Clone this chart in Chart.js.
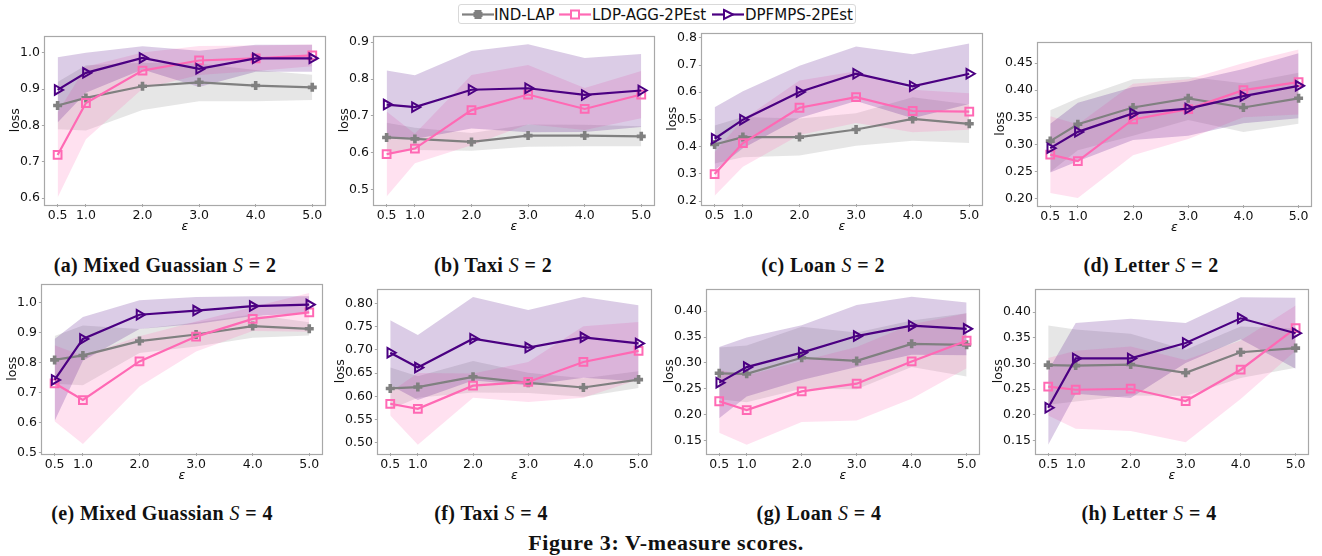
<!DOCTYPE html>
<html><head><meta charset="utf-8">
<script src="https://cdn.jsdelivr.net/npm/chart.js@4.4.1/dist/chart.umd.min.js"></script>
<style>
body{margin:0;width:1322px;height:556px;background:#fff;position:relative;overflow:hidden;font-family:"DejaVu Sans",sans-serif;}
canvas{position:absolute;}
.cap{position:absolute;font-family:"Liberation Serif",serif;font-weight:bold;font-size:20px;letter-spacing:0.4px;white-space:nowrap;transform:translate(-50%,-50%);color:#111;}
.cap i{font-weight:normal;}
.figcap{position:absolute;font-family:"Liberation Serif",serif;font-weight:bold;font-size:22px;letter-spacing:0.6px;white-space:nowrap;transform:translate(-50%,-50%);color:#111;}
#legend{position:absolute;left:458px;top:4px;width:398px;height:20px;border:1px solid #d9d9d9;border-radius:3px;box-sizing:border-box;}
.lg{position:absolute;top:0;height:20px;}
.lt{position:absolute;top:1px;font-family:"DejaVu Sans";font-size:15px;line-height:18px;color:#111;white-space:nowrap;}
</style></head><body>
<div id="legend"></div>
<script>
// ---------- data ----------
const epsilons = [0.5, 1.0, 2.0, 3.0, 4.0, 5.0];
const seriesNames = ['IND-LAP', 'LDP-AGG-2PEst', 'DPFMPS-2PEst'];
const panelLetters = ['a','b','c','d','e','f','g','h'];
const panelNames = ['Mixed Guassian','Taxi','Loan','Letter','Mixed Guassian','Taxi','Loan','Letter'];
const panelS = [2,2,2,2,4,4,4,4];
const yTickValues = [
  [0.6,0.7,0.8,0.9,1.0],
  [0.5,0.6,0.7,0.8,0.9],
  [0.2,0.3,0.4,0.5,0.6,0.7,0.8],
  [0.20,0.25,0.30,0.35,0.40,0.45],
  [0.5,0.6,0.7,0.8,0.9,1.0],
  [0.50,0.55,0.60,0.65,0.70,0.75,0.80],
  [0.15,0.20,0.25,0.30,0.35,0.40],
  [0.15,0.20,0.25,0.30,0.35,0.40]
];
const yDecimals = [1,1,1,2,1,2,2,2];
const yMin = [0.584,0.462,0.189,0.188,0.498,0.478,0.126,0.126];
const yMax = [1.045,0.915,0.816,0.488,1.061,0.830,0.442,0.444];

const indLapMean = [
  [0.855,0.876,0.908,0.919,0.910,0.905],
  [0.642,0.638,0.630,0.647,0.647,0.645],
  [0.408,0.435,0.435,0.463,0.502,0.484],
  [0.306,0.337,0.368,0.385,0.368,0.385],
  [0.809,0.824,0.872,0.894,0.922,0.913],
  [0.617,0.620,0.642,0.629,0.619,0.636],
  [0.280,0.279,0.310,0.304,0.337,0.335],
  [0.297,0.296,0.298,0.282,0.322,0.330]
];
const indLapStd = [
  [0.065,0.090,0.065,0.052,0.043,0.035],
  [0.040,0.030,0.024,0.030,0.029,0.027],
  [0.070,0.074,0.068,0.060,0.080,0.071],
  [0.057,0.048,0.052,0.040,0.045,0.047],
  [0.080,0.100,0.040,0.040,0.039,0.022],
  [0.045,0.023,0.034,0.022,0.020,0.018],
  [0.050,0.055,0.060,0.055,0.045,0.061],
  [0.077,0.070,0.060,0.045,0.050,0.038]
];
const ldpMean = [
  [0.719,0.862,0.951,0.979,0.985,0.993],
  [0.597,0.612,0.716,0.758,0.719,0.758],
  [0.299,0.413,0.543,0.582,0.531,0.529],
  [0.281,0.269,0.346,0.365,0.400,0.415],
  [0.731,0.675,0.804,0.887,0.946,0.968],
  [0.584,0.573,0.623,0.631,0.674,0.698],
  [0.226,0.209,0.245,0.260,0.303,0.343],
  [0.255,0.249,0.251,0.227,0.288,0.369]
];
const ldpStd = [
  [0.117,0.100,0.050,0.040,0.035,0.030],
  [0.115,0.040,0.095,0.080,0.057,0.064],
  [0.080,0.087,0.100,0.095,0.078,0.067],
  [0.071,0.068,0.066,0.055,0.050,0.060],
  [0.127,0.147,0.084,0.050,0.040,0.065],
  [0.025,0.077,0.026,0.043,0.077,0.062],
  [0.061,0.067,0.059,0.071,0.072,0.053],
  [0.056,0.076,0.082,0.080,0.057,0.044]
];
const dpfMean = [
  [0.898,0.945,0.986,0.956,0.985,0.985],
  [0.731,0.724,0.771,0.775,0.757,0.769],
  [0.429,0.499,0.601,0.668,0.622,0.668],
  [0.293,0.323,0.357,0.366,0.389,0.408],
  [0.742,0.879,0.960,0.974,0.989,0.994],
  [0.694,0.662,0.724,0.705,0.727,0.714],
  [0.262,0.292,0.320,0.352,0.372,0.366],
  [0.214,0.310,0.310,0.340,0.388,0.359]
];
const dpfStd = [
  [0.090,0.055,0.032,0.050,0.037,0.037],
  [0.092,0.086,0.105,0.119,0.100,0.099],
  [0.116,0.105,0.096,0.100,0.118,0.111],
  [0.045,0.054,0.049,0.050,0.050,0.060],
  [0.137,0.073,0.048,0.045,0.033,0.028],
  [0.070,0.070,0.090,0.081,0.087,0.082],
  [0.069,0.057,0.053,0.060,0.056,0.051],
  [0.072,0.069,0.077,0.039,0.041,0.069]
];

// ---------- layout & style ----------
const panelBoxes = [
  [45,36,325,203],[374,36,654,203],[702,33,982,203],[1038,42,1311,204],
  [42,284,322,452],[378,289,651,452],[707,289,979,452],[1036,289,1308,452]
];
const captionCenters = [165,493,823,1151,162,491,819,1149];
const captionRows = [265,513];
const GRAY = '#808080', PINK = '#ff69b4', INDIGO = '#4b0082';
const GRAY_BAND = 'rgba(128,128,128,0.2)', PINK_BAND = 'rgba(255,105,180,0.2)', INDIGO_BAND = 'rgba(75,0,130,0.2)';
const SPINE = '#a8a8a8';
const TXT = '#111';

const boxPlugin = {
  id: 'boxBorder',
  afterDatasetsDraw(chart) {
    const a = chart.chartArea, ctx = chart.ctx;
    ctx.save();
    ctx.strokeStyle = SPINE; ctx.lineWidth = 1.2;
    ctx.strokeRect(Math.round(a.left) - 0.5, Math.round(a.top) - 0.5, Math.round(a.right - a.left) + 1, Math.round(a.bottom - a.top) + 1);
    ctx.restore();
  }
};

function pts(arr) { return epsilons.map((e, k) => ({x: e, y: arr[k]})); }
function shifted(mean, std, sign) { return epsilons.map((e, k) => ({x: e, y: mean[k] + sign * std[k]})); }

function lineDs(label, mean, color, style, radius, bw, rotation) {
  return {
    label, data: pts(mean), borderColor: color, borderWidth: 2.2, tension: 0, fill: false,
    pointStyle: style, pointRadius: radius, pointBorderWidth: bw, pointRotation: rotation,
    pointBorderColor: color, pointBackgroundColor: 'rgba(0,0,0,0)'
  };
}
function bandDs(mean, std, sign, fillTarget, color) {
  return {
    data: shifted(mean, std, sign), borderWidth: 0, pointRadius: 0, tension: 0,
    borderColor: 'rgba(0,0,0,0)', backgroundColor: color,
    fill: fillTarget === null ? false : {target: fillTarget}
  };
}

function buildConfig(i) {
  const datasets = [
    lineDs(seriesNames[2], dpfMean[i], INDIGO, 'triangle', 5.5, 2, 90),
    lineDs(seriesNames[1], ldpMean[i], PINK, 'rect', 5.5, 2, 0),
    lineDs(seriesNames[0], indLapMean[i], GRAY, 'cross', 4.5, 3.6, 0),
    bandDs(dpfMean[i], dpfStd[i], -1, null, INDIGO_BAND),
    bandDs(dpfMean[i], dpfStd[i], 1, 3, INDIGO_BAND),
    bandDs(ldpMean[i], ldpStd[i], -1, null, PINK_BAND),
    bandDs(ldpMean[i], ldpStd[i], 1, 5, PINK_BAND),
    bandDs(indLapMean[i], indLapStd[i], -1, null, GRAY_BAND),
    bandDs(indLapMean[i], indLapStd[i], 1, 7, GRAY_BAND)
  ];
  const tickFont = {family: 'DejaVu Sans', size: 12.5};
  return {
    type: 'line',
    data: {datasets},
    options: {
      responsive: false, maintainAspectRatio: false, animation: false,
      layout: {padding: {left: 0, top: 6, right: 8, bottom: 0}, autoPadding: false},
      plugins: {legend: {display: false}, tooltip: {enabled: false}},
      scales: {
        x: {
          type: 'linear', min: 0.275, max: 5.225,
          afterBuildTicks: ax => { ax.ticks = epsilons.map(v => ({value: v})); },
          ticks: {font: tickFont, color: TXT, padding: 1, maxRotation: 0, autoSkip: false,
                  callback: v => Number(v).toFixed(1)},
          grid: {display: true, drawOnChartArea: false, drawTicks: true, tickLength: 3, color: SPINE},
          border: {display: false},
          title: {display: true, text: 'ε', font: {family: 'DejaVu Sans', size: 12.5, style: 'italic'}, color: TXT, padding: {top: -5, bottom: 0}}
        },
        y: {
          type: 'linear', min: yMin[i], max: yMax[i],
          afterBuildTicks: ax => { ax.ticks = yTickValues[i].map(v => ({value: v})); },
          ticks: {font: tickFont, color: TXT, padding: 2, autoSkip: false,
                  callback: v => Number(v).toFixed(yDecimals[i])},
          grid: {display: true, drawOnChartArea: false, drawTicks: true, tickLength: 3, color: SPINE},
          border: {display: false},
          title: {display: true, text: 'loss', font: {family: 'DejaVu Sans', size: 12.5}, color: TXT, padding: {top: 0, bottom: -5}}
        }
      }
    },
    plugins: [boxPlugin]
  };
}

function makePanel(i) {
  const box = panelBoxes[i];
  const bw = box[2] - box[0], bh = box[3] - box[1];
  const cv = document.createElement('canvas');
  document.body.appendChild(cv);
  let W = 80 + bw + 8, H = 6 + bh + 50;
  cv.width = W; cv.height = H; cv.style.width = W + 'px'; cv.style.height = H + 'px';
  let chart = new Chart(cv, buildConfig(i));
  const ca = chart.chartArea;
  const axisW = ca.left, axisH = H - ca.bottom, topOff = ca.top;
  chart.destroy();
  W = Math.round(axisW + bw + 8); H = Math.round(topOff + bh + axisH);
  cv.width = W; cv.height = H; cv.style.width = W + 'px'; cv.style.height = H + 'px';
  chart = new Chart(cv, buildConfig(i));
  const c2 = chart.chartArea;
  cv.style.left = Math.round(box[0] - c2.left) + 'px';
  cv.style.top = Math.round(box[1] - c2.top) + 'px';

  const cap = document.createElement('div');
  cap.className = 'cap';
  cap.innerHTML = '(' + panelLetters[i] + ') ' + panelNames[i] + ' <i>S</i> = ' + panelS[i];
  cap.style.left = captionCenters[i] + 'px';
  cap.style.top = captionRows[i < 4 ? 0 : 1] + 'px';
  document.body.appendChild(cap);
}
for (let i = 0; i < 8; i++) makePanel(i);

const fc = document.createElement('div');
fc.className = 'figcap';
fc.textContent = 'Figure 3: V-measure scores.';
fc.style.left = '666px'; fc.style.top = '543px';
document.body.appendChild(fc);

// ---------- legend ----------
const legend = document.getElementById('legend');
const icons = [
  '<svg width="34" height="20"><line x1="1" y1="9.5" x2="33" y2="9.5" stroke="' + GRAY + '" stroke-width="2.2"/><rect x="13.5" y="5" width="7" height="9" fill="' + GRAY + '"/><rect x="12.5" y="7" width="9" height="5" fill="' + GRAY + '"/></svg>',
  '<svg width="34" height="20"><line x1="1" y1="9.5" x2="33" y2="9.5" stroke="' + PINK + '" stroke-width="2.2"/><rect x="13" y="5.5" width="8" height="8" fill="#fff" stroke="' + PINK + '" stroke-width="2"/></svg>',
  '<svg width="34" height="20"><line x1="1" y1="9.5" x2="33" y2="9.5" stroke="' + INDIGO + '" stroke-width="2.2"/><polygon points="13,5 22,9.5 13,14" fill="#fff" stroke="' + INDIGO + '" stroke-width="2"/></svg>'
];
const iconX = [2, 99, 252];
const textX = [35, 133, 286];
for (let k = 0; k < 3; k++) {
  const ic = document.createElement('div');
  ic.className = 'lg'; ic.style.left = iconX[k] + 'px'; ic.innerHTML = icons[k];
  legend.appendChild(ic);
  const t = document.createElement('div');
  t.className = 'lt'; t.style.left = textX[k] + 'px'; t.textContent = seriesNames[k];
  legend.appendChild(t);
}
</script>
</body></html>
